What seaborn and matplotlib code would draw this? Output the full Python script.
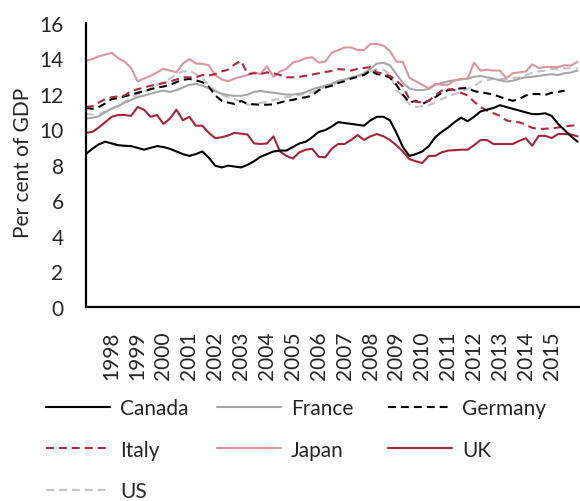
import numpy as np
import pandas as pd
import matplotlib.pyplot as plt
import seaborn as sns

# quarterly, 1997Q1 - 2016Q1
quarters = pd.period_range("1997Q1", "2016Q1", freq="Q")
year_pos = [q.year + (q.quarter - 1) / 4 for q in quarters]

canada = [8.6, 8.9, 9.15, 9.3, 9.2, 9.1, 9.07, 9.05, 8.95, 8.85, 8.95, 9.05, 9.0, 8.9, 8.75, 8.6,
          8.5, 8.6, 8.75, 8.4, 7.95, 7.85, 7.95, 7.9, 7.85, 8.0, 8.2, 8.45, 8.6, 8.75, 8.8, 8.8,
          9.0, 9.2, 9.3, 9.55, 9.85, 9.95, 10.15, 10.4, 10.35, 10.3, 10.25, 10.2, 10.5, 10.7, 10.7, 10.5,
          9.8, 9.0, 8.5, 8.6, 8.75, 9.05, 9.55, 9.85, 10.1, 10.4, 10.65, 10.45, 10.7, 11.0, 11.1, 11.2,
          11.35, 11.25, 11.15, 11.05, 10.95, 10.85, 10.85, 10.9, 10.75, 10.3, 9.95, 9.6, 9.3]
france = [10.6, 10.65, 10.73, 10.95, 11.17, 11.3, 11.5, 11.65, 11.8, 11.9, 12.0, 12.1, 12.17, 12.1, 12.2, 12.35,
          12.5, 12.55, 12.45, 12.3, 12.15, 12.0, 11.92, 11.88, 11.88, 11.95, 12.1, 12.15, 12.1, 12.05, 12.0, 11.95,
          11.95, 12.0, 12.08, 12.25, 12.35, 12.45, 12.55, 12.73, 12.8, 12.9, 13.0, 13.15, 13.4, 13.7, 13.73, 13.6,
          13.1, 12.6, 12.3, 12.2, 12.2, 12.26, 12.5, 12.6, 12.7, 12.75, 12.8, 12.85, 12.95, 13.0, 12.92, 12.85,
          12.75, 12.68, 12.73, 12.85, 12.92, 12.95, 13.0, 13.05, 13.1, 13.05, 13.15, 13.2, 13.3]
germany = [11.2, 11.15, 11.25, 11.45, 11.7, 11.75, 11.85, 11.95, 12.05, 12.15, 12.25, 12.35, 12.4, 12.5, 12.65, 12.78,
           12.83, 12.75, 12.65, 12.4, 11.9, 11.6, 11.5, 11.42, 11.6, 11.42, 11.4, 11.38, 11.38, 11.4, 11.5, 11.6,
           11.65, 11.75, 11.8, 11.9, 12.2, 12.35, 12.45, 12.6, 12.7, 12.85, 12.95, 13.05, 13.3, 13.1, 13.05, 12.9,
           12.5, 11.95, 11.5, 11.6, 11.42, 11.6, 11.8, 12.05, 12.2, 12.26, 12.3, 12.32, 12.15, 12.08, 12.02, 11.95,
           11.82, 11.7, 11.6, 11.7, 11.9, 11.98, 11.98, 11.93, 12.05, 12.1, 12.17, np.nan, np.nan]
italy = [11.25, 11.3, 11.5, 11.7, 11.8, 11.85, 11.9, 12.15, 12.25, 12.35, 12.45, 12.5, 12.6, 12.68, 12.8, 12.92,
         12.92, 12.92, 13.05, 13.02, 13.1, 13.25, 13.35, 13.65, 13.85, 13.1, 13.15, 13.1, 13.2, 13.15, 13.05, 12.92,
         12.92, 12.95, 13.01, 13.08, 13.15, 13.22, 13.28, 13.38, 13.36, 13.3, 13.4, 13.45, 13.49, 13.2, 13.12, 13.0,
         12.75, 12.4, 11.7, 11.55, 11.5, 11.6, 11.9, 12.17, 12.25, 12.2, 12.05, 11.9, 11.55, 11.25, 11.05, 10.9,
         10.75, 10.5, 10.42, 10.39, 10.25, 10.08, 10.01, 10.03, 10.05, 10.1, 10.16, 10.2, 10.24]
japan = [13.85, 13.95, 14.1, 14.2, 14.3, 14.0, 13.8, 13.45, 12.7, 12.85, 13.0, 13.2, 13.4, 13.3, 13.2, 13.7,
         13.95, 13.7, 13.68, 13.6, 13.05, 12.8, 12.7, 12.85, 12.95, 13.05, 13.2, 13.1, 13.55, 12.95, 13.25, 13.4,
         13.75, 13.85, 14.0, 14.05, 13.75, 13.8, 14.3, 14.45, 14.6, 14.6, 14.46, 14.46, 14.8, 14.8, 14.7, 14.4,
         13.8, 13.8, 12.9, 12.7, 12.5, 12.3, 12.55, 12.5, 12.5, 12.75, 12.83, 12.83, 13.75, 13.3, 13.35, 13.3,
         13.3, 12.87, 13.15, 13.2, 13.25, 13.65, 13.45, 13.5, 13.5, 13.5, 13.6, 13.58, 13.8]
uk = [9.8, 9.85, 10.1, 10.4, 10.7, 10.8, 10.8, 10.75, 11.25, 11.1, 10.7, 10.8, 10.3, 10.6, 11.1, 10.5,
      10.7, 10.2, 10.2, 9.8, 9.5, 9.55, 9.65, 9.8, 9.75, 9.7, 9.2, 9.17, 9.2, 9.6, 8.75, 8.5,
      8.35, 8.7, 8.85, 8.9, 8.45, 8.42, 8.9, 9.17, 9.17, 9.4, 9.67, 9.4, 9.6, 9.73, 9.6, 9.4,
      9.1, 8.75, 8.32, 8.2, 8.1, 8.5, 8.5, 8.7, 8.8, 8.82, 8.85, 8.85, 9.1, 9.39, 9.39, 9.17,
      9.17, 9.17, 9.17, 9.35, 9.49, 9.07, 9.63, 9.63, 9.5, 9.73, 9.73, 9.7, 9.6]
us = [10.85, 10.83, 10.85, 11.0, 11.14, 11.35, 11.55, 11.78, 11.95, 12.1, 12.3, 12.5, 12.65, 12.85, 13.1, 13.25,
      13.3, 13.1, 12.85, 12.5, 12.17, 11.95, 11.78, 11.7, 11.5, 11.38, 11.4, 11.48, 11.55, 11.65, 11.72, 11.8,
      11.88, 11.93, 12.0, 12.08, 12.25, 12.36, 12.5, 12.64, 12.78, 12.92, 13.0, 13.1, 13.25, 13.39, 13.35, 13.1,
      12.2, 11.9, 11.4, 11.25, 11.3, 11.35, 11.5, 11.7, 11.85, 11.98, 12.1, 12.26, 12.42, 12.68, 12.75, 12.83,
      12.83, 12.83, 12.88, 12.92, 13.05, 13.17, 13.25, 13.3, 13.39, 13.4, 13.43, 13.43, 13.43]

year_labels = list(range(1998, 2016))
major_years = list(range(1997, 2016, 3))

df = pd.DataFrame({"x": year_pos, "Canada": canada, "France": france, "Germany": germany,
                   "Italy": italy, "Japan": japan, "UK": uk, "US": us})

dash = (0, (3.8, 2.4))
styles = {
    "Canada": ("#000000", "-"),
    "France": ("#a6a6a6", "-"),
    "Germany": ("#000000", dash),
    "Italy": ("#b0283f", dash),
    "Japan": ("#dc959f", "-"),
    "UK": ("#a6233a", "-"),
    "US": ("#c4c4c4", dash),
}

sns.set_style("white")
plt.rcParams["font.family"] = ["Lato", "DejaVu Sans"]
fs = 15

fig = plt.figure(figsize=(5.8, 5.02), dpi=100)
ax = fig.add_axes([0.148, 0.3865, 0.85, 0.5665])

handles = {}
for name in ["US", "France", "Japan", "Germany", "Italy", "UK", "Canada"]:
    col, ls = styles[name]
    sns.lineplot(data=df, x="x", y=name, ax=ax, color=col, linewidth=1.5, label=name)
    handles[name] = ax.lines[-1]
    handles[name].set_linestyle(ls)
ax.get_legend().remove()

ax.set_ylim(0, 16)
ax.set_xlim(1997, 2016.05)
ax.set_yticks(range(0, 17, 2))
ax.set_xticks(year_labels)
ax.set_xticklabels([str(y) for y in year_labels], rotation=90)
ax.set_xticks(major_years, minor=True)
ax.tick_params(axis="x", which="major", length=0, pad=17, labelsize=fs)
ax.tick_params(axis="x", which="minor", length=6, width=1.5, direction="out", color="black")
ax.tick_params(axis="y", length=7, width=1.5, direction="in", pad=16, labelsize=fs, color="black")
ax.set_xlabel("")
ax.set_ylabel("")
for s in ["top", "right"]:
    ax.spines[s].set_visible(False)
for s in ["left", "bottom"]:
    ax.spines[s].set_linewidth(1.6)
    ax.spines[s].set_color("black")

fig.text(23 / 580, 1 - 163 / 502, "Per cent of GDP", rotation=90, ha="center", va="center", fontsize=fs)

cols = [(["Canada", "Italy", "US"], 46), (["France", "Japan"], 217), (["Germany", "UK"], 388)]
for names, xpx in cols:
    fig.legend([handles[n] for n in names], names, loc="upper left",
               bbox_to_anchor=(xpx / 580, 1 - 399 / 502), frameon=False, fontsize=fs,
               handlelength=3.08, handletextpad=0.48, labelspacing=1.04, borderpad=0, borderaxespad=0)

fig.savefig("out.png", dpi=100)
